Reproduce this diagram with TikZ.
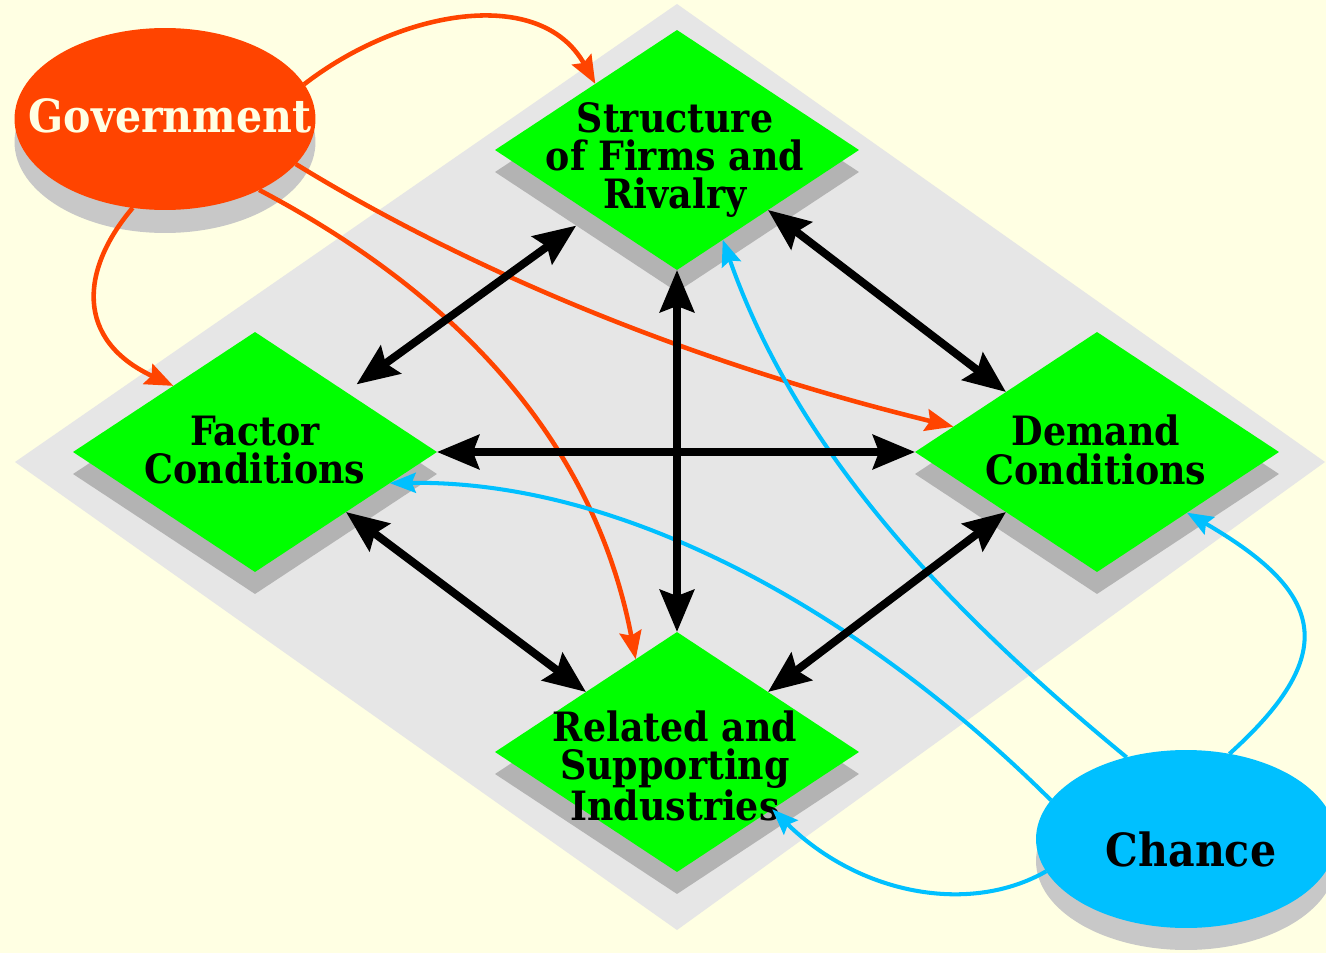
\documentclass[tikz,border=0pt]{standalone}
\usepackage{fontspec}
\usetikzlibrary{shapes.geometric,arrows.meta}
\newfontfamily\diagfont{DejaVu Serif}[FakeStretch=0.9]
\definecolor{Paper}{HTML}{FFFFE3}
\definecolor{Deck}{HTML}{E6E6E6}
\definecolor{DeckShade}{HTML}{B3B3B3}
\definecolor{BlobShade}{HTML}{C8C8C8}
\definecolor{Leaf}{HTML}{00FF00}
\definecolor{Flame}{HTML}{FF4400}
\definecolor{Sky}{HTML}{00C0FF}
\tikzset{
  corner/.style={diamond,fill=Leaf,inner sep=0pt,outer sep=0pt,minimum width=7.28cm,minimum height=4.8cm},
  cornershade/.style={corner,fill=DeckShade},
  blob/.style={ellipse,inner sep=0pt,outer sep=0pt},
  cornertext/.style={font=\diagfont\bfseries\fontsize{23pt}{21.8pt}\selectfont,align=center,inner sep=0pt},
  blobtext/.style={font=\diagfont\bfseries\fontsize{26pt}{26pt}\selectfont,inner sep=0pt},
  duo/.style={line width=4.5pt,{Stealth[length=0.84cm,width=0.68cm,inset=0.12cm]}-{Stealth[length=0.84cm,width=0.68cm,inset=0.12cm]}},
  govlink/.style={Flame,line width=2.6pt,-{Stealth[length=0.56cm,width=0.44cm,inset=0.08cm]}},
  chancelink/.style={Sky,line width=2.3pt,-{Stealth[length=0.52cm,width=0.4cm,inset=0.08cm]}}
}
\begin{document}
\begin{tikzpicture}[x=0.02cm,y=-0.02cm]
  \fill[Paper] (0,0) rectangle (1326,953);
  \useasboundingbox (0,0) rectangle (1326,953);
  \fill[Deck] (15,462) -- (677,4) -- (1325,462) -- (677,930) -- cycle;

  \node[cornershade] (structshade) at (677,172) {};
  \node[cornershade] (factorshade) at (255,474) {};
  \node[cornershade] (demandshade) at (1097,474) {};
  \node[cornershade] (relatedshade) at (677,774) {};
  \node[corner] (struct) at (677,150) {};
  \node[corner] (factor) at (255,452) {};
  \node[corner] (demand) at (1097,452) {};
  \node[corner] (related) at (677,752) {};

  \node[blob,fill=BlobShade,minimum width=6.02cm,minimum height=3.64cm] (govshade) at (165,142) {};
  \node[blob,fill=Flame,minimum width=6.02cm,minimum height=3.64cm] (gov) at (165,119) {};
  \node[blob,fill=BlobShade,minimum width=6cm,minimum height=3.56cm] (chanceshade) at (1186,861) {};
  \node[blob,fill=Sky,minimum width=6cm,minimum height=3.56cm] (chance) at (1186,839) {};

  \node[cornertext] (structlabel) at (675,160) {Structure\\of Firms and\\Rivalry};
  \node[cornertext] (factorlabel) at (255,450) {Factor\\Conditions};
  \node[cornertext] (demandlabel) at (1096,450) {Demand\\Conditions};
  \node[cornertext] (relatedlabel) at (675,766) {Related and\\Supporting\\Industries};
  \node[blobtext,text=Paper] (govlabel) at (170,116) {Government};
  \node[blobtext] (chancelabel) at (1191,849) {Chance};

  \draw[govlink] (gov.14) .. controls (400,10) and (540,-15) .. (struct.141);
  \draw[govlink] (gov.250) .. controls (80,270) and (75,340) .. (factor.141);
  \draw[govlink] (gov.-19) .. controls (460,265) and (680,360) .. (demand.170);
  \draw[govlink] (gov.-37) .. controls (430,280) and (590,420) .. (related.114);

  \draw[chancelink] (chance.126) .. controls (960,620) and (800,460) .. (struct.-63);
  \draw[chancelink] (chance.164) .. controls (880,630) and (640,480) .. (factor.-13);
  \draw[chancelink] (chance.63) .. controls (1345,650) and (1320,590) .. (demand.-34);
  \draw[chancelink] (chance.193) .. controls (970,915) and (860,895) .. (related.-31);

  \draw[duo,shorten <=0.26cm] (factor.north east) -- (structshade.208);
  \draw[duo] (struct.south east) -- (demand.north west);
  \draw[duo] (factor.east) -- (demand.west);
  \draw[duo] (struct.south) -- (related.north);
  \draw[duo] (factor.south east) -- (related.north west);
  \draw[duo] (demand.south west) -- (related.north east);
\end{tikzpicture}
\end{document}
